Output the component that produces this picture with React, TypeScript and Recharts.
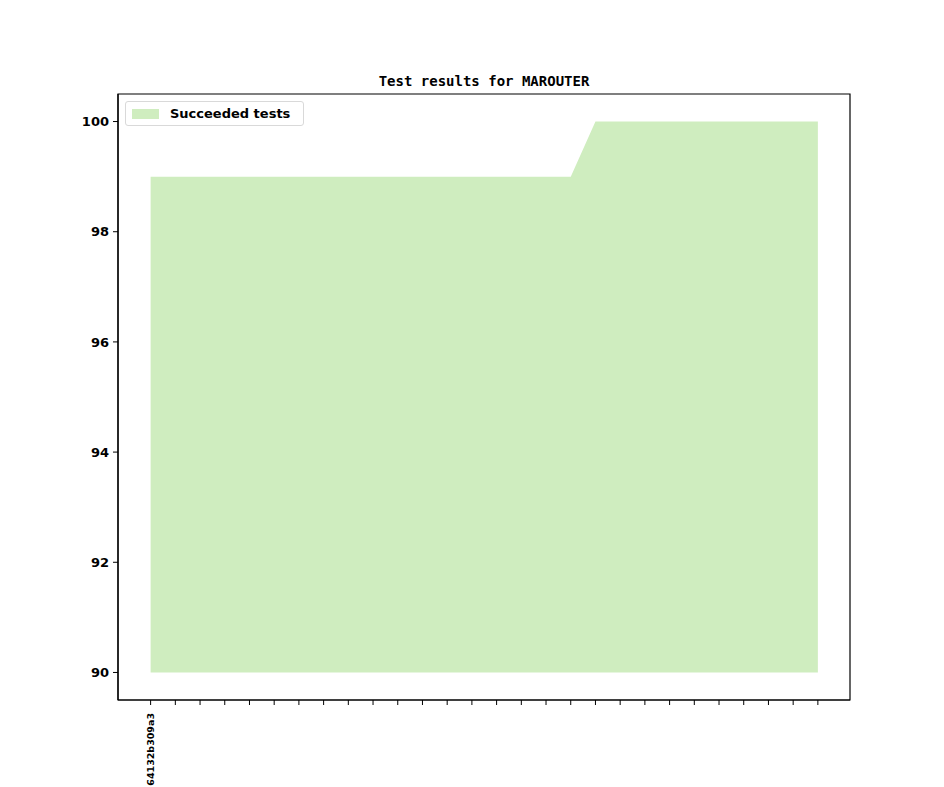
import React from "react";
import { AreaChart, Area, XAxis, YAxis, Legend, ReferenceArea } from "recharts";

const commits = [
  "64132b309a3", "", "", "", "", "", "", "", "", "", "", "", "", "",
  "", "", "", "", "", "", "", "", "", "", "", "", "", "",
];
const succeeded = [
  99, 99, 99, 99, 99, 99, 99, 99, 99, 99, 99, 99, 99, 99,
  99, 99, 99, 99, 100, 100, 100, 100, 100, 100, 100, 100, 100, 100,
];
const yTicks = [90, 92, 94, 96, 98, 100];
const baseline = 90;
const title = "Test results for MAROUTER";
const seriesName = "Succeeded tests";

const data = succeeded.map((v, i) => ({ idx: i, label: commits[i], range: [baseline, v] }));
const xTicks = data.map((d) => d.idx);

const W = 944;
const H = 787;
const FILL = "#cfedbf";
const X_DOMAIN: [number, number] = [-1.32, 28.3];
const Y_DOMAIN: [number, number] = [89.5, 100.5];

const XTick = (props: any) => {
  const { x, y, payload } = props;
  const label = commits[payload.value] || "";
  return (
    <g transform={`translate(${x},${y + 6})`}>
      <text
        transform="rotate(-90)"
        textAnchor="end"
        dy="0.35em"
        fontSize={9.5}
        fontWeight="bold"
        fontFamily="DejaVu Sans"
        fill="#000"
      >
        {label}
      </text>
    </g>
  );
};

const LegendBox = () => (
  <div
    style={{
      position: "absolute",
      left: 125,
      top: 101,
      width: 179,
      height: 25,
      border: "1px solid #d9d9d9",
      borderRadius: 3,
      background: "rgba(255,255,255,0.8)",
      boxSizing: "border-box",
      fontFamily: "DejaVu Sans",
      fontWeight: "bold",
      fontSize: 13,
      display: "flex",
      alignItems: "center",
    }}
  >
    <span style={{ display: "inline-block", width: 27, height: 10, background: FILL, marginLeft: 6, marginRight: 11 }} />
    <span>{seriesName}</span>
  </div>
);

export default function App() {
  return (
    <div style={{ position: "absolute", left: 0, top: 0, width: W, height: H, background: "#fff" }}>
      <div
        style={{
          position: "absolute",
          left: 118,
          width: 732,
          top: 73,
          textAlign: "center",
          fontFamily: "DejaVu Sans Mono",
          fontWeight: "bold",
          fontSize: 14,
          lineHeight: "16px",
        }}
      >
        {title}
      </div>
      <AreaChart
        width={W}
        height={H}
        data={data}
        margin={{ top: 94, right: 94, bottom: 0, left: 0 }}
      >
        <XAxis
          dataKey="idx"
          type="number"
          domain={X_DOMAIN}
          ticks={xTicks}
          interval={0}
          allowDataOverflow
          height={87}
          tickSize={5}
          tickLine={{ stroke: "#000", strokeWidth: 1 }}
          axisLine={{ stroke: "#000", strokeWidth: 1.2 }}
          tick={<XTick />}
        />
        <YAxis
          type="number"
          domain={Y_DOMAIN}
          ticks={yTicks}
          allowDataOverflow
          width={118}
          tickSize={5}
          tickMargin={4}
          tickLine={{ stroke: "#000", strokeWidth: 1 }}
          axisLine={{ stroke: "#000", strokeWidth: 1.2 }}
          tick={{ fill: "#000", fontSize: 13, fontWeight: "bold", fontFamily: "DejaVu Sans" }}
        />
        <Area
          type="linear"
          dataKey="range"
          name={seriesName}
          stroke="none"
          fill={FILL}
          fillOpacity={1}
          isAnimationActive={false}
          dot={false}
          activeDot={false}
        />
        <ReferenceArea
          x1={X_DOMAIN[0]}
          x2={X_DOMAIN[1]}
          y1={Y_DOMAIN[0]}
          y2={Y_DOMAIN[1]}
          fill="none"
          stroke="#000"
          strokeWidth={1.2}
          ifOverflow="visible"
        />
        <Legend content={() => <LegendBox />} wrapperStyle={{ position: "absolute", left: 0, top: 0 }} />
      </AreaChart>
    </div>
  );
}
